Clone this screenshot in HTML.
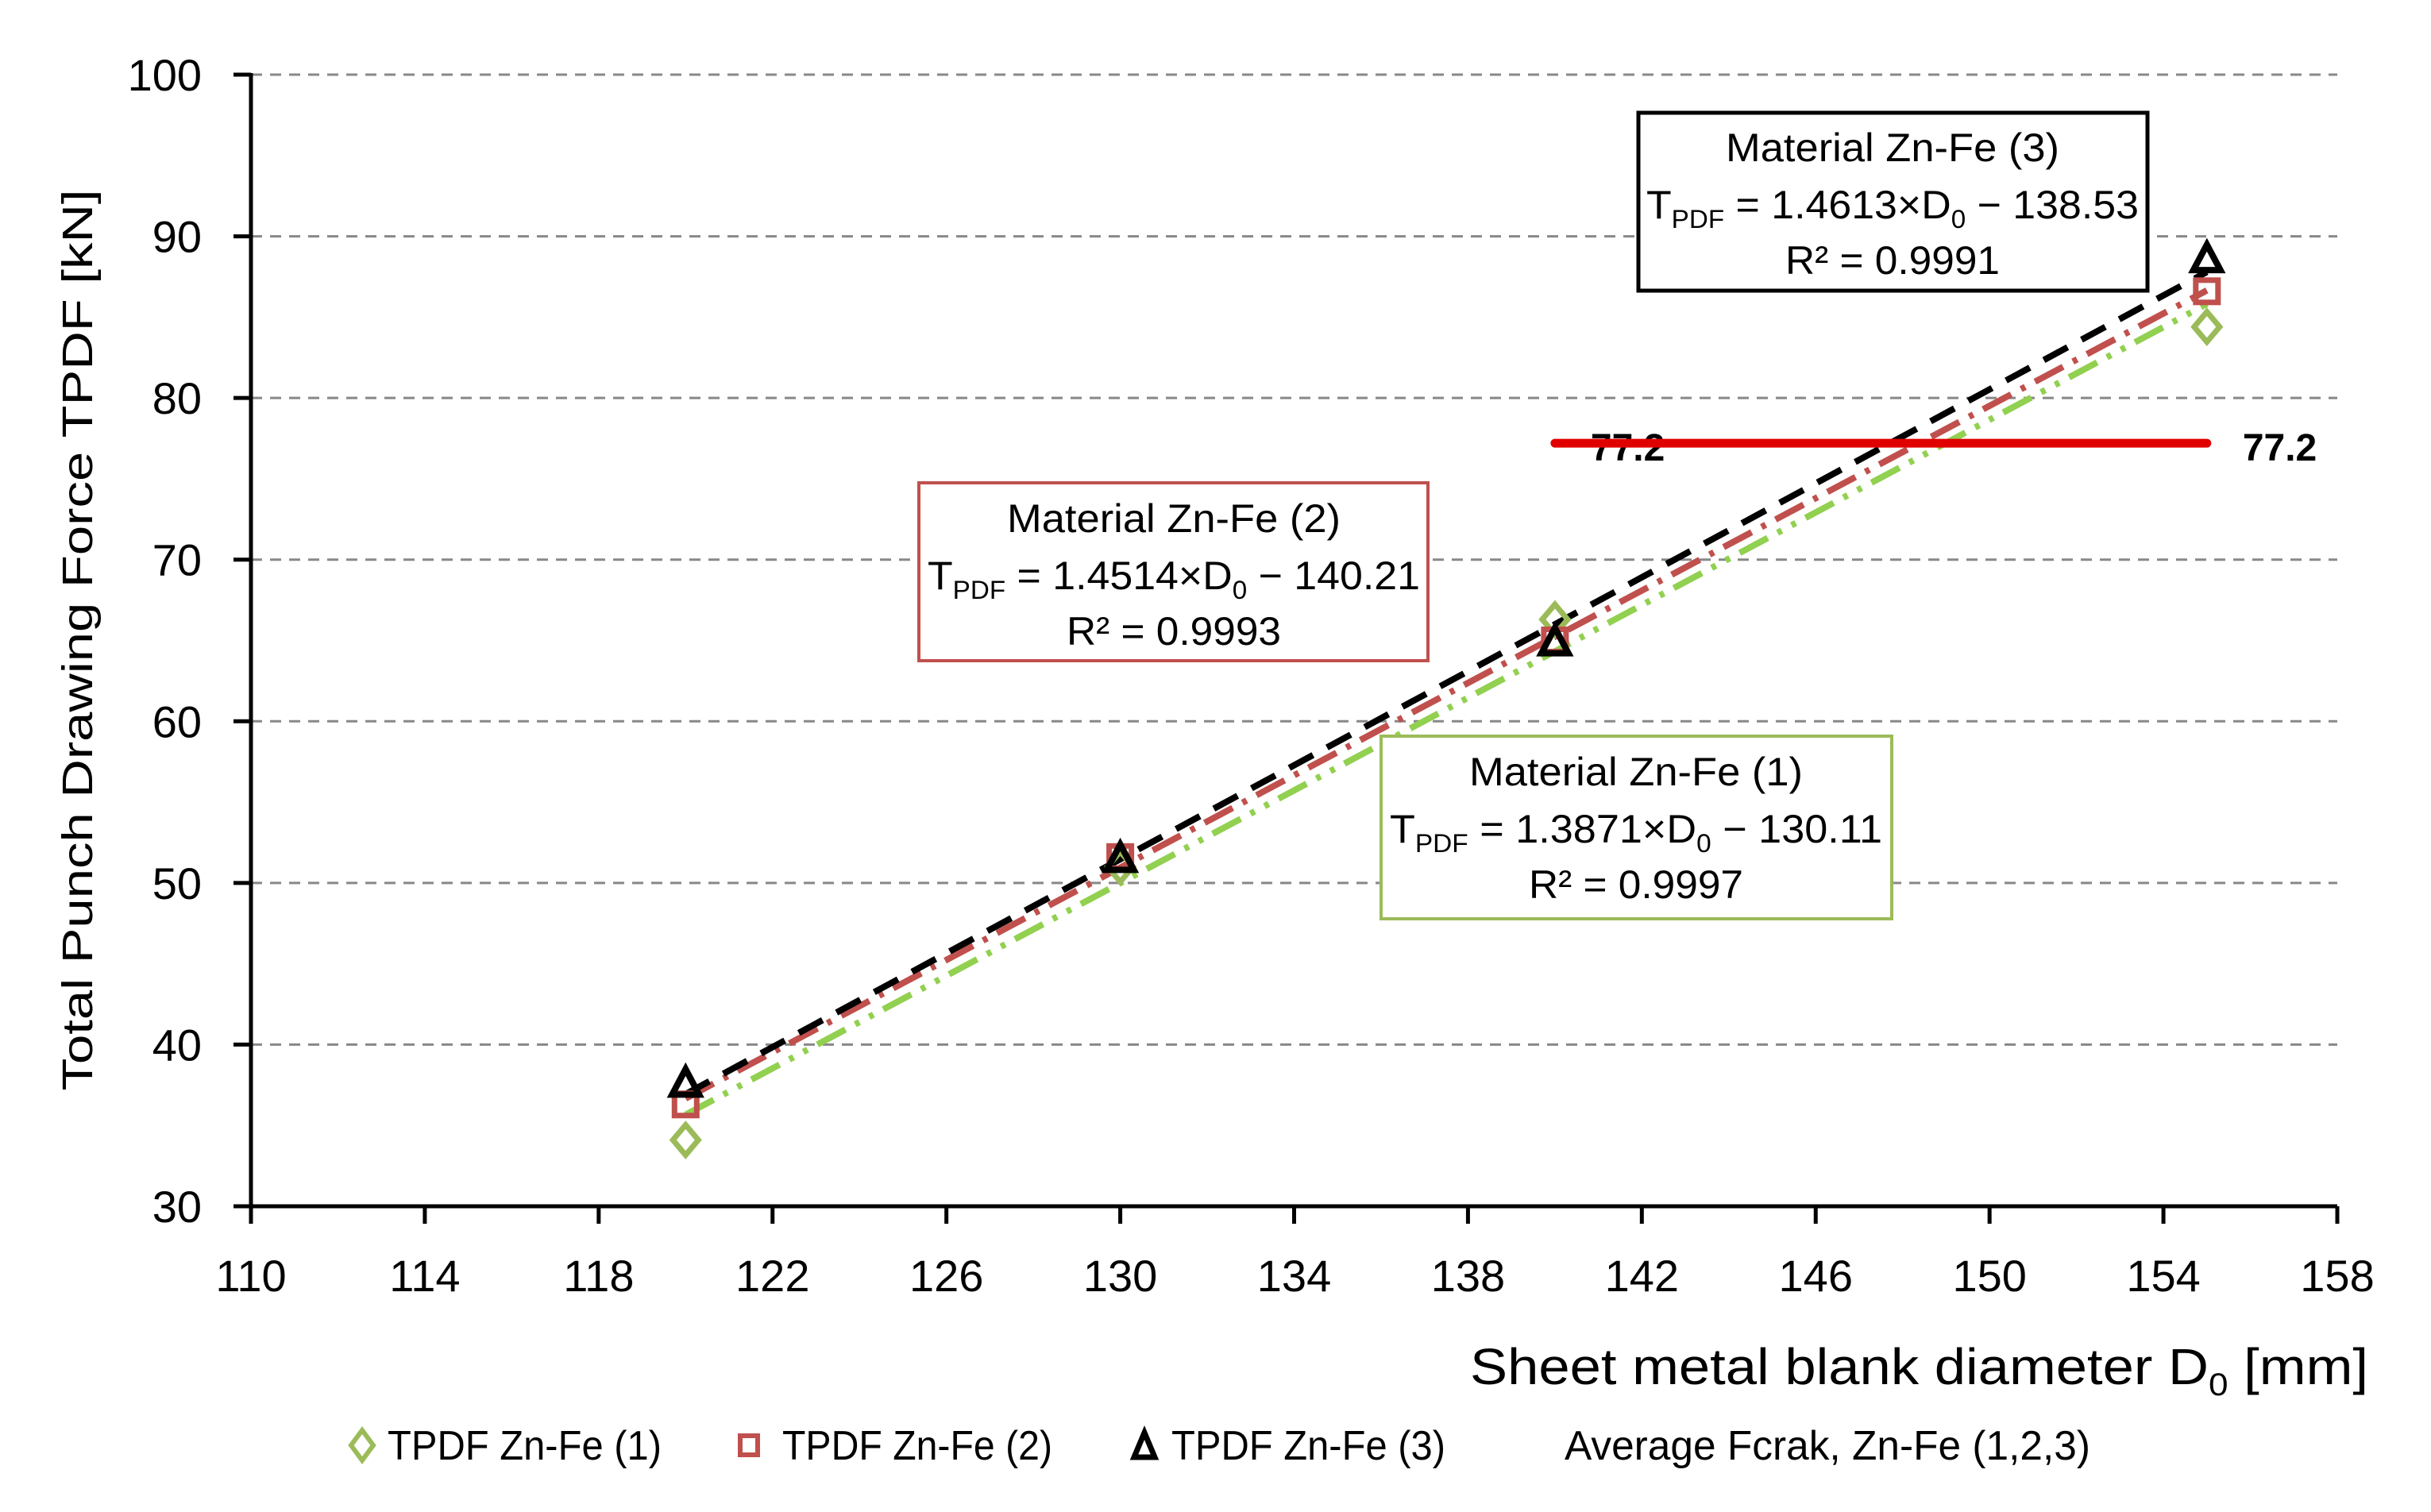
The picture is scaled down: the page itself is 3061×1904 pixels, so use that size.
<!DOCTYPE html>
<html><head><meta charset="utf-8"><style>
html,body{margin:0;padding:0;background:#fff;}
svg{display:block;font-family:"Liberation Sans",sans-serif;}
</style></head><body>
<svg id="chart" width="3061" height="1904" viewBox="0 0 3061 1904">
<g id="grid"></g>
<g id="trend"></g>
<g id="avg"></g>
<g id="marks"></g>
<g id="axes"></g>
<g>
<rect x="2063" y="142" width="641" height="224" fill="#fff" stroke="#000" stroke-width="5"/>
<text x="2383" y="203" text-anchor="middle" font-size="50" textLength="420" lengthAdjust="spacingAndGlyphs">Material Zn-Fe (3)</text>
<text x="2383" y="275" text-anchor="middle" font-size="50" textLength="620" lengthAdjust="spacingAndGlyphs">T<tspan font-size="32" dy="12">PDF</tspan><tspan dy="-12"> = 1.4613×D</tspan><tspan font-size="32" dy="12">0</tspan><tspan dy="-12"> − 138.53</tspan></text>
<text x="2383" y="345" text-anchor="middle" font-size="50" textLength="270" lengthAdjust="spacingAndGlyphs">R² = 0.9991</text>
</g>
<g>
<rect x="1157" y="608" width="641" height="224" fill="#fff" stroke="#C0504D" stroke-width="4"/>
<text x="1478" y="670" text-anchor="middle" font-size="50" textLength="420" lengthAdjust="spacingAndGlyphs">Material Zn-Fe (2)</text>
<text x="1478" y="742" text-anchor="middle" font-size="50" textLength="620" lengthAdjust="spacingAndGlyphs">T<tspan font-size="32" dy="12">PDF</tspan><tspan dy="-12"> = 1.4514×D</tspan><tspan font-size="32" dy="12">0</tspan><tspan dy="-12"> − 140.21</tspan></text>
<text x="1478" y="812" text-anchor="middle" font-size="50" textLength="270" lengthAdjust="spacingAndGlyphs">R² = 0.9993</text>
</g>
<g>
<rect x="1739" y="927" width="643" height="230" fill="#fff" stroke="#9BBB59" stroke-width="4"/>
<text x="2060" y="989" text-anchor="middle" font-size="50" textLength="420" lengthAdjust="spacingAndGlyphs">Material Zn-Fe (1)</text>
<text x="2060" y="1061" text-anchor="middle" font-size="50" textLength="620" lengthAdjust="spacingAndGlyphs">T<tspan font-size="32" dy="12">PDF</tspan><tspan dy="-12"> = 1.3871×D</tspan><tspan font-size="32" dy="12">0</tspan><tspan dy="-12"> − 130.11</tspan></text>
<text x="2060" y="1131" text-anchor="middle" font-size="50" textLength="270" lengthAdjust="spacingAndGlyphs">R² = 0.9997</text>
</g>
<text x="0" y="0" transform="translate(116,806) rotate(-90)" text-anchor="middle" font-size="54" textLength="1135" lengthAdjust="spacingAndGlyphs">Total Punch Drawing Force TPDF [kN]</text>
<text x="2982" y="1743" text-anchor="end" font-size="64" textLength="1131" lengthAdjust="spacingAndGlyphs">Sheet metal blank diameter D<tspan font-size="40" dy="14">0</tspan><tspan dy="-14"> [mm]</tspan></text>
<g font-size="52">
<g>
<path d="M456 1801 L470 1820 L456 1839 L442 1820 Z" fill="none" stroke="#9BBB59" stroke-width="6"/>
<text x="488" y="1838" textLength="345" lengthAdjust="spacingAndGlyphs">TPDF Zn-Fe (1)</text></g>
<g>
<rect x="932" y="1808" width="22" height="24" fill="none" stroke="#C0504D" stroke-width="6"/>
<text x="985" y="1838" textLength="340" lengthAdjust="spacingAndGlyphs">TPDF Zn-Fe (2)</text></g>
<g>
<path d="M1441 1804 L1454 1835 L1428 1835 Z" fill="none" stroke="#000" stroke-width="7"/>
<text x="1475" y="1838" textLength="345" lengthAdjust="spacingAndGlyphs">TPDF Zn-Fe (3)</text></g>
<g>
<text x="1970" y="1838" textLength="662" lengthAdjust="spacingAndGlyphs">Average Fcrak, Zn-Fe (1,2,3)</text></g>
</g>
</svg>
<script>
const xTicks = [110,114,118,122,126,130,134,138,142,146,150,154,158];
const yTicks = [30,40,50,60,70,80,90,100];
const diameters = [120,130,140,155];
const seriesZn1 = [34.1,51.0,66.3,84.4];
const seriesZn2 = [36.3,51.6,65.0,86.6];
const seriesZn3 = [37.5,51.4,64.8,88.5];
const avgValue = [77.2];
const avgRange = [140,155];

const NS='http://www.w3.org/2000/svg';
const X0=316,X1=2943,Y0=1519,Y1=94;
function xs(v){return X0+(v-110)/(158-110)*(X1-X0);}
function ys(v){return Y0-(v-30)/(100-30)*(Y0-Y1);}
function mk(tag,attrs,parent){const e=document.createElementNS(NS,tag);for(const k in attrs)e.setAttribute(k,attrs[k]);parent.appendChild(e);return e;}
const grid=document.getElementById('grid'),axes=document.getElementById('axes'),trend=document.getElementById('trend'),marks=document.getElementById('marks'),avg=document.getElementById('avg');

yTicks.forEach(v=>{
  if(v>30){const g=mk('line',{x1:X0,x2:X1,y1:ys(v),y2:ys(v),stroke:'#888',"stroke-width":3,"stroke-dasharray":"14 10"},grid);
  
  }
  const t=mk('line',{x1:X0-22,x2:X0,y1:ys(v),y2:ys(v),stroke:'#000',"stroke-width":5},axes);
  
  
  const l=mk('text',{x:254,y:ys(v)+20,"text-anchor":"end","font-size":56},axes);l.textContent=v;
  
  
});
xTicks.forEach(v=>{
  const t=mk('line',{x1:xs(v),x2:xs(v),y1:Y0,y2:Y0+22,stroke:'#000',"stroke-width":5},axes);
  
  
  const l=mk('text',{x:xs(v),y:Y0+107,"text-anchor":"middle","font-size":56},axes);l.textContent=v;
  
  
});
const ya=mk('line',{x1:X0,x2:X0,y1:Y1-2,y2:Y0+22,stroke:'#000',"stroke-width":5},axes);


const xa=mk('line',{x1:X0-22,x2:X1,y1:Y0,y2:Y0,stroke:'#000',"stroke-width":5},axes);



function fit(xv,yv){const n=xv.length;let sx=0,sy=0,sxx=0,sxy=0;for(let i=0;i<n;i++){sx+=xv[i];sy+=yv[i];sxx+=xv[i]*xv[i];sxy+=xv[i]*yv[i];}
  const b=(n*sxy-sx*sy)/(n*sxx-sx*sx);return [b,(sy-b*sx)/n];}
const trends=[[seriesZn1,'#92D050','40 14 6 14 6 14','trendline-zn-fe-1'],[seriesZn2,'#C0504D','40 14 6 14','trendline-zn-fe-2'],[seriesZn3,'#000','34 20','trendline-zn-fe-3']];
trends.forEach(([s,c,d,n])=>{
  const [b,a]=fit(diameters,s);const xa0=diameters[0],xa1=diameters[diameters.length-1];
  const l=mk('line',{x1:xs(xa0),y1:ys(a+b*xa0),x2:xs(xa1),y2:ys(a+b*xa1),stroke:c,"stroke-width":8,"stroke-dasharray":d},trend);
  
  
});

const t1=mk('text',{x:xs(avgRange[0])+45,y:ys(avgValue[0])+22,"font-size":48,"font-weight":"bold"},avg);t1.textContent=avgValue[0].toFixed(1);


const al=mk('line',{x1:xs(avgRange[0]),x2:xs(avgRange[1]),y1:ys(avgValue[0]),y2:ys(avgValue[0]),stroke:'#E00000',"stroke-width":11,"stroke-linecap":"round"},avg);


const t2=mk('text',{x:xs(avgRange[1])+45,y:ys(avgValue[0])+22,"font-size":48,"font-weight":"bold"},avg);t2.textContent=avgValue[0].toFixed(1);



diameters.forEach((d,i)=>{
  const x=xs(d);
  let y=ys(seriesZn1[i]);
  const p1=mk('path',{d:`M${x} ${y-19} L${x+16} ${y} L${x} ${y+19} L${x-16} ${y} Z`,fill:'none',stroke:'#9BBB59',"stroke-width":7},marks);
  
  
  y=ys(seriesZn2[i]);
  const p2=mk('rect',{x:x-14,y:y-14,width:28,height:28,fill:'none',stroke:'#C0504D',"stroke-width":7},marks);
  
  
  y=ys(seriesZn3[i]);
  const p3=mk('path',{d:`M${x} ${y-20} L${x+17} ${y+12} L${x-17} ${y+12} Z`,fill:'none',stroke:'#000',"stroke-width":8},marks);
  
  
});
</script>
</body></html>
